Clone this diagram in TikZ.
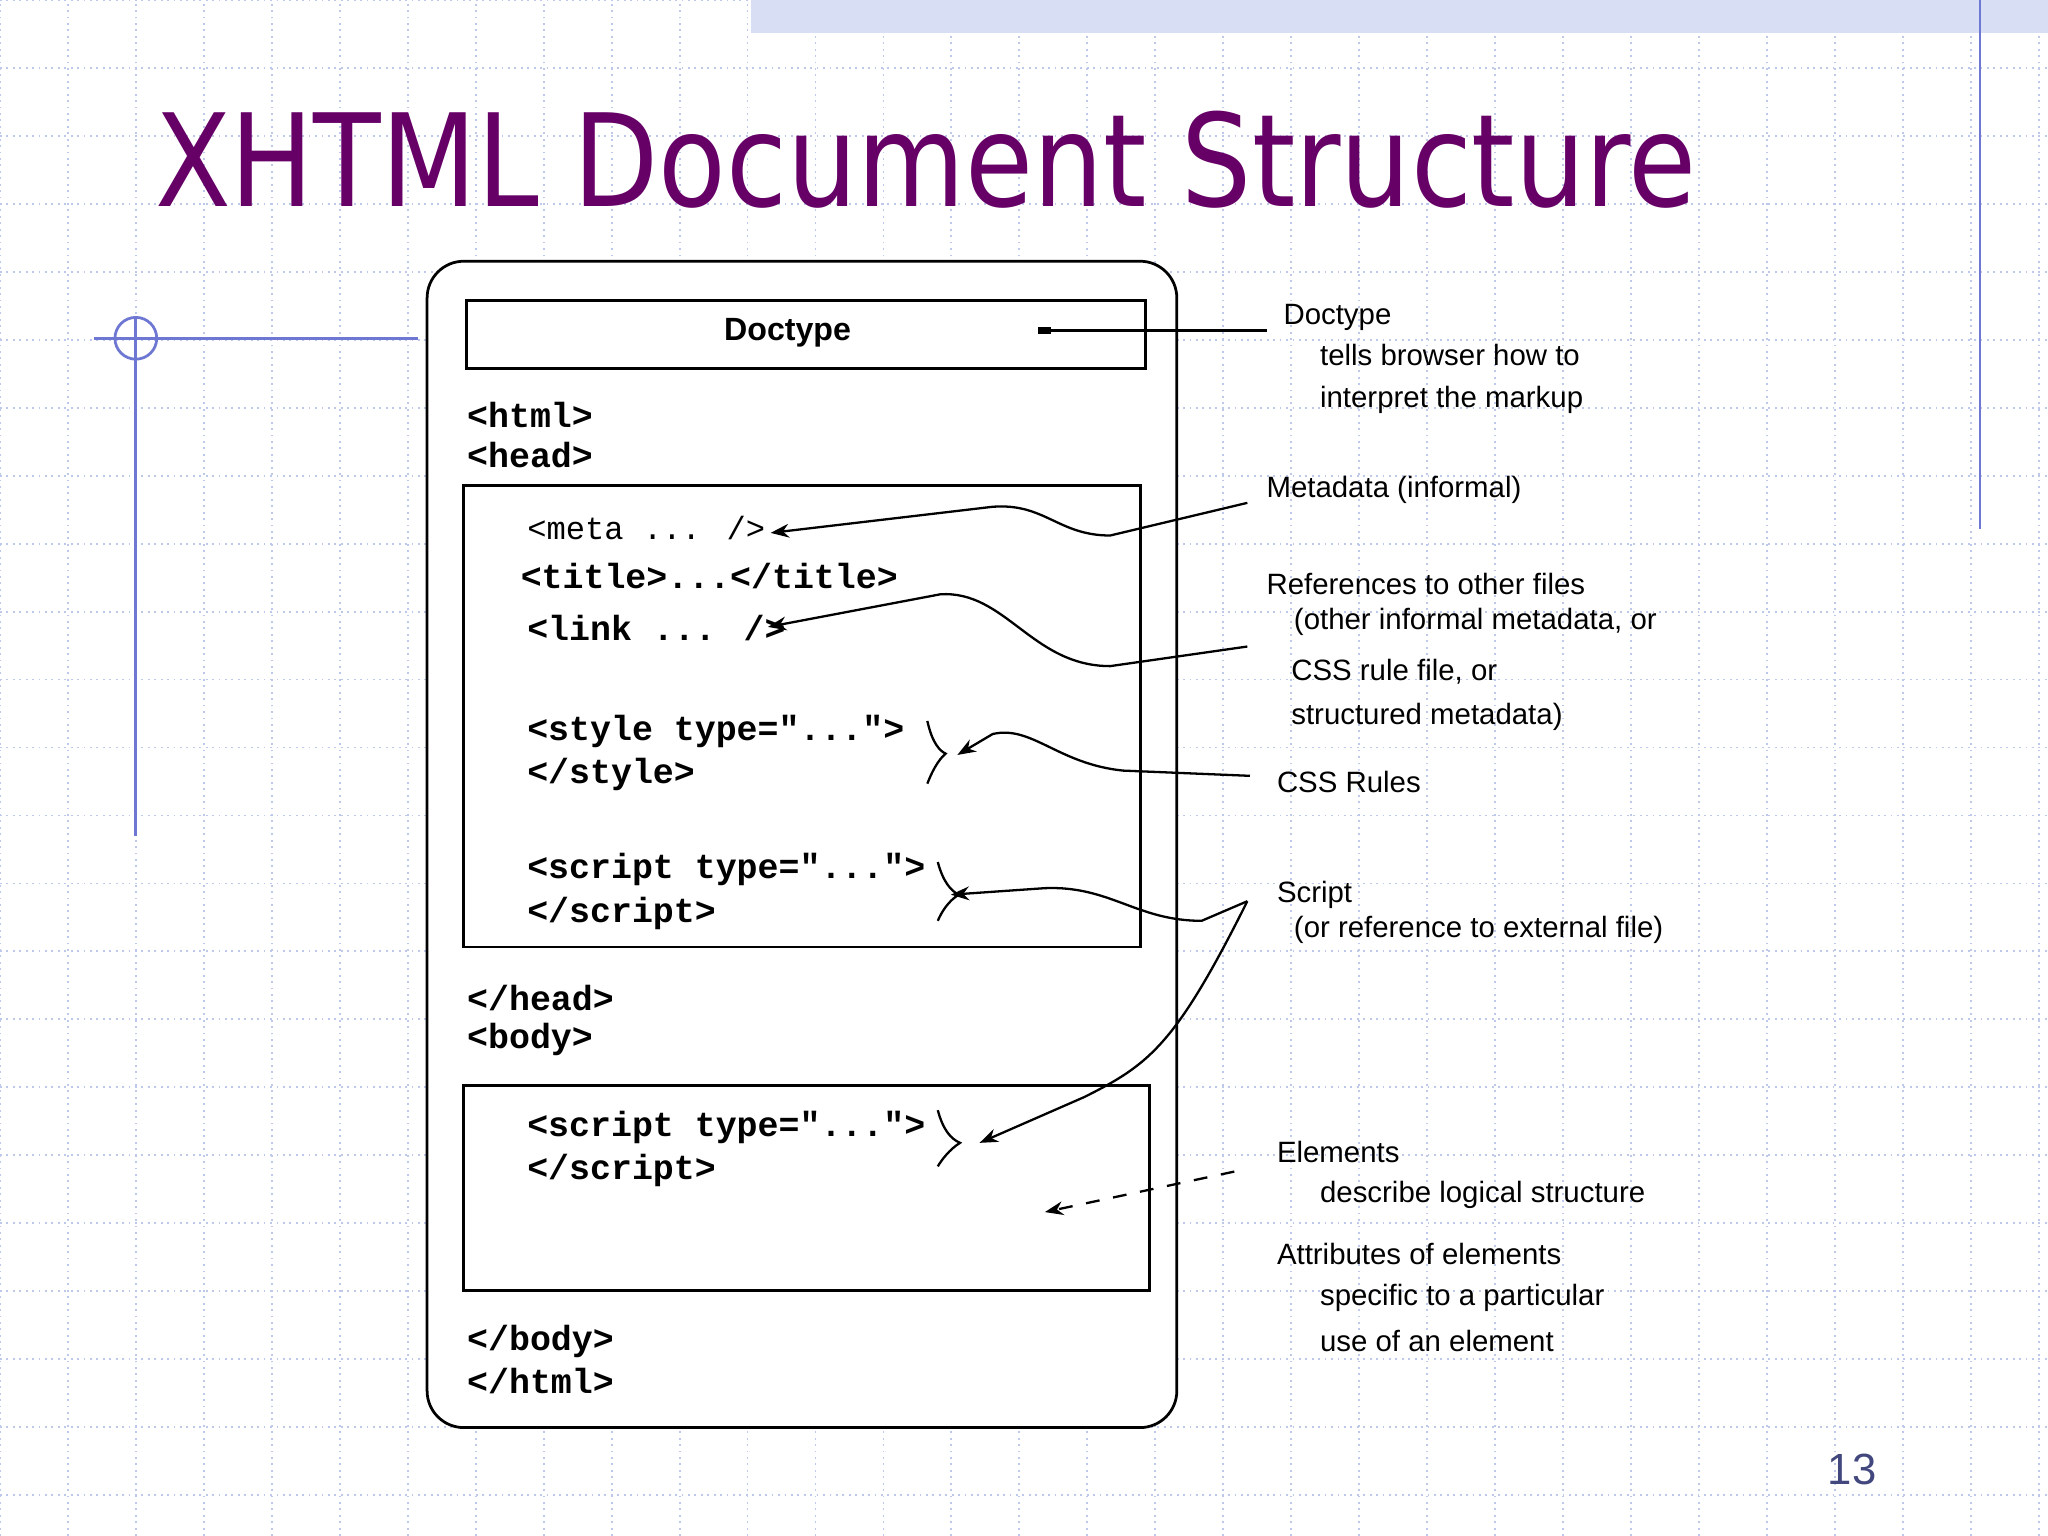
\documentclass[tikz,border=0pt]{standalone}
\usepackage{fontspec}
\setmainfont{Liberation Sans}
\newfontfamily\titlef{DejaVu Sans}
\newfontfamily\codef{Liberation Mono}
\usetikzlibrary{arrows.meta}
\definecolor{gridc}{RGB}{190,200,235}
\definecolor{titlec}{RGB}{102,0,102}
\definecolor{decoc}{RGB}{110,120,210}
\tikzset{
 code/.style={anchor=west,inner sep=0pt,font=\codef\bfseries\fontsize{7.6}{9}\selectfont},
 lbl/.style={anchor=west,inner sep=0pt,font=\fontsize{6.4}{8}\selectfont},
 box/.style={draw,line width=0.6pt},
 conn/.style={line width=0.5pt},
 tip/.style={-{Stealth[length=4pt,width=3pt]}}
}
\begin{document}
\begin{tikzpicture}[x=0.01cm,y=-0.01cm]
\useasboundingbox (0,0) rectangle (1568,1176);
\fill[white] (0,0) rectangle (1568,1176);
\draw[gridc,densely dotted,line width=0.4pt,step=0.52cm] (0,0) grid (1568,1176);
\fill[gridc!60] (575,0) rectangle (1568,25);
\draw[decoc,line width=0.6pt] (1516,0) -- (1516,405);
\draw[decoc,line width=0.6pt] (72,259) -- (320,259);
\draw[decoc,line width=0.6pt] (104,243) -- (104,640);
\draw[decoc,line width=0.6pt] (104,259) circle[radius=16];
\node[anchor=west,inner sep=0pt,text=titlec,font=\titlef\fontsize{28}{32}\selectfont] (title) at (118,122) {\scalebox{0.86}[1]{XHTML Document Structure}};
% boxes
\draw[box,rounded corners=8pt,fill=white] (327,200) rectangle (901,1093);
\draw[box] (357,230) rectangle (877,282);
\node[inner sep=0pt,font=\bfseries\fontsize{7}{8}\selectfont] (dtt) at (603,255) {Doctype};
\draw[box] (355,372) rectangle (873,725);
\draw[box] (355,831) rectangle (880,988);
% code
\node[code] (c1) at (357,318) {<html>};
\node[code] (c2) at (357,348) {<head>};
\node[code,font=\codef\fontsize{7}{8}\selectfont] (c3) at (403,404) {<meta ... />};
\node[code] (c4) at (398,441) {<title>...</title>};
\node[code] (c5) at (403,481) {<link ... />};
\node[code] (c6) at (403,560) {<style type="...">};
\node[code] (c7) at (403,593) {</style>};
\node[code] (c8) at (403,666) {<script type="...">};
\node[code] (c9) at (403,699) {</script>};
\node[code] (c10) at (357,764) {</head>};
\node[code] (c11) at (357,796) {<body>};
\node[code] (c12) at (403,863) {<script type="...">};
\node[code] (c13) at (403,896) {</script>};
\node[code] (c14) at (357,1027) {</body>};
\node[code] (c15) at (357,1057) {</html>};
% labels
\node[lbl] (l1) at (982,243) {Doctype};
\node[lbl] (l2) at (1010,272) {tells browser how to};
\node[lbl] (l3) at (1010,306) {interpret the markup};
\node[lbl] (l4) at (969,375) {Metadata (informal)};
\node[lbl] (l5) at (969,447) {References to other files};
\node[lbl] (l6) at (990,476) {(other informal metadata, or};
\node[lbl] (l7) at (988,514) {CSS rule file, or};
\node[lbl] (l8) at (988,549) {structured metadata)};
\node[lbl] (l9) at (977,599) {CSS Rules};
\node[lbl] (l10) at (977,685) {Script};
\node[lbl] (l11) at (990,712) {(or reference to external file)};
\node[lbl] (l12) at (977,882) {Elements};
\node[lbl] (l13) at (1010,915) {describe logical structure};
\node[lbl] (l14) at (977,960) {Attributes of elements};
\node[lbl] (l15) at (1010,994) {specific to a particular};
\node[lbl] (l16) at (1010,1027) {use of an element};
\node[inner sep=0pt,text=decoc!60!black,font=\fontsize{9.5}{11}\selectfont] (pg) at (1418,1125) {13};
% connectors
\coordinate (a0) at (970,253); \coordinate (a1) at (795,253);
\draw[conn] (a0) -- (a1);
\fill (a1) ++(0,-2.5) rectangle ++(10,5);
\coordinate (m0) at (955,385); \coordinate (m1) at (590,408);
\draw[conn,tip] (m0) -- (850,410) .. controls (810,410) and (800,385) .. (760,388) -- (m1);
\coordinate (r0) at (955,495); \coordinate (r1) at (588,480);
\draw[conn,tip] (r0) -- (850,510) .. controls (790,510) and (770,452) .. (720,455) -- (r1);
\coordinate (s0) at (957,594); \coordinate (s1) at (733,578);
\draw[conn,tip] (s0) -- (860,590) .. controls (810,585) and (790,555) .. (760,562) -- (s1);
\draw[conn] (710,552) .. controls (714,570) and (720,575) .. (724,577) .. controls (718,582) and (713,592) .. (710,600);
\coordinate (p0) at (955,690); \coordinate (p1) at (728,685);
\draw[conn,tip] (p0) -- (920,705) .. controls (870,705) and (850,678) .. (800,680) -- (p1);
\draw[conn] (718,660) .. controls (722,675) and (728,682) .. (734,685) .. controls (726,690) and (721,698) .. (718,705);
\coordinate (q1) at (750,875);
\draw[conn,tip] (p0) .. controls (900,800) and (880,815) .. (830,840) -- (q1);
\draw[conn] (718,850) .. controls (722,865) and (728,872) .. (735,875) .. controls (727,880) and (721,888) .. (718,893);
\coordinate (e0) at (945,897); \coordinate (e1) at (800,928);
\draw[conn,dashed,tip] (e0) -- (e1);
\end{tikzpicture}
\end{document}
